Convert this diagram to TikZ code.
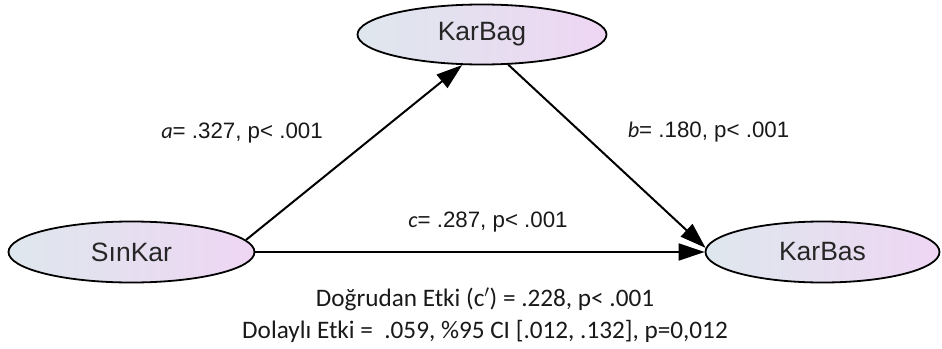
\documentclass[tikz,border=0pt]{standalone}
\usepackage{fontspec}
\setmainfont{Liberation Sans}
\newfontfamily\calibri{Carlito}
\usetikzlibrary{shapes.geometric,arrows.meta}
\definecolor{ellL}{RGB}{222,231,237}
\definecolor{ellR}{RGB}{238,214,243}
\tikzset{
  var/.style={ellipse, draw=black, line width=1.8pt, left color=ellL, right color=ellR,
    inner sep=0pt, font=\fontsize{26.5}{30}\selectfont, text=black!85},
  path/.style={line width=2pt, -{Triangle[length=26pt,width=17pt]}},
  coef/.style={anchor=base, font=\fontsize{22.3}{26}\selectfont, text=black!90},
  eff/.style={anchor=base, font=\calibri\fontsize{25.2}{30}\selectfont, text=black!90}
}
\begin{document}
\begin{tikzpicture}[x=1pt,y=-1pt]
\useasboundingbox (0,0) rectangle (942,348);
\node[var, minimum width=249pt, minimum height=60pt] (KarBag) at (482,34.5) {KarBag};
\node[var, minimum width=246pt, minimum height=61pt] (SinKar) at (131.5,252) {SınKar};
\node[var, minimum width=234pt, minimum height=61pt] (KarBas) at (822.5,252) {KarBas};
\draw[path] (SinKar.6) -- (KarBag.237);
\draw[path] (KarBag.311) -- (KarBas.178);
\draw[path] (SinKar.east) -- (KarBas.west);
\node[coef] (la) at (242,138) {{\calibri\itshape a}= .327, p< .001};
\node[coef] (lb) at (708.5,137) {{\calibri\itshape b}= .180, p< .001};
\node[coef] (lc) at (488,227) {{\calibri\itshape c}= .287, p< .001};
\node[eff] (d1) at (485,306.5) {Doğrudan Etki (c$^{\prime}$) = .228, p< .001};
\node[eff] (d2) at (485,338) {Dolaylı Etki = \ .059, \%95 CI [.012, .132], p=0,012};
\end{tikzpicture}
\end{document}
